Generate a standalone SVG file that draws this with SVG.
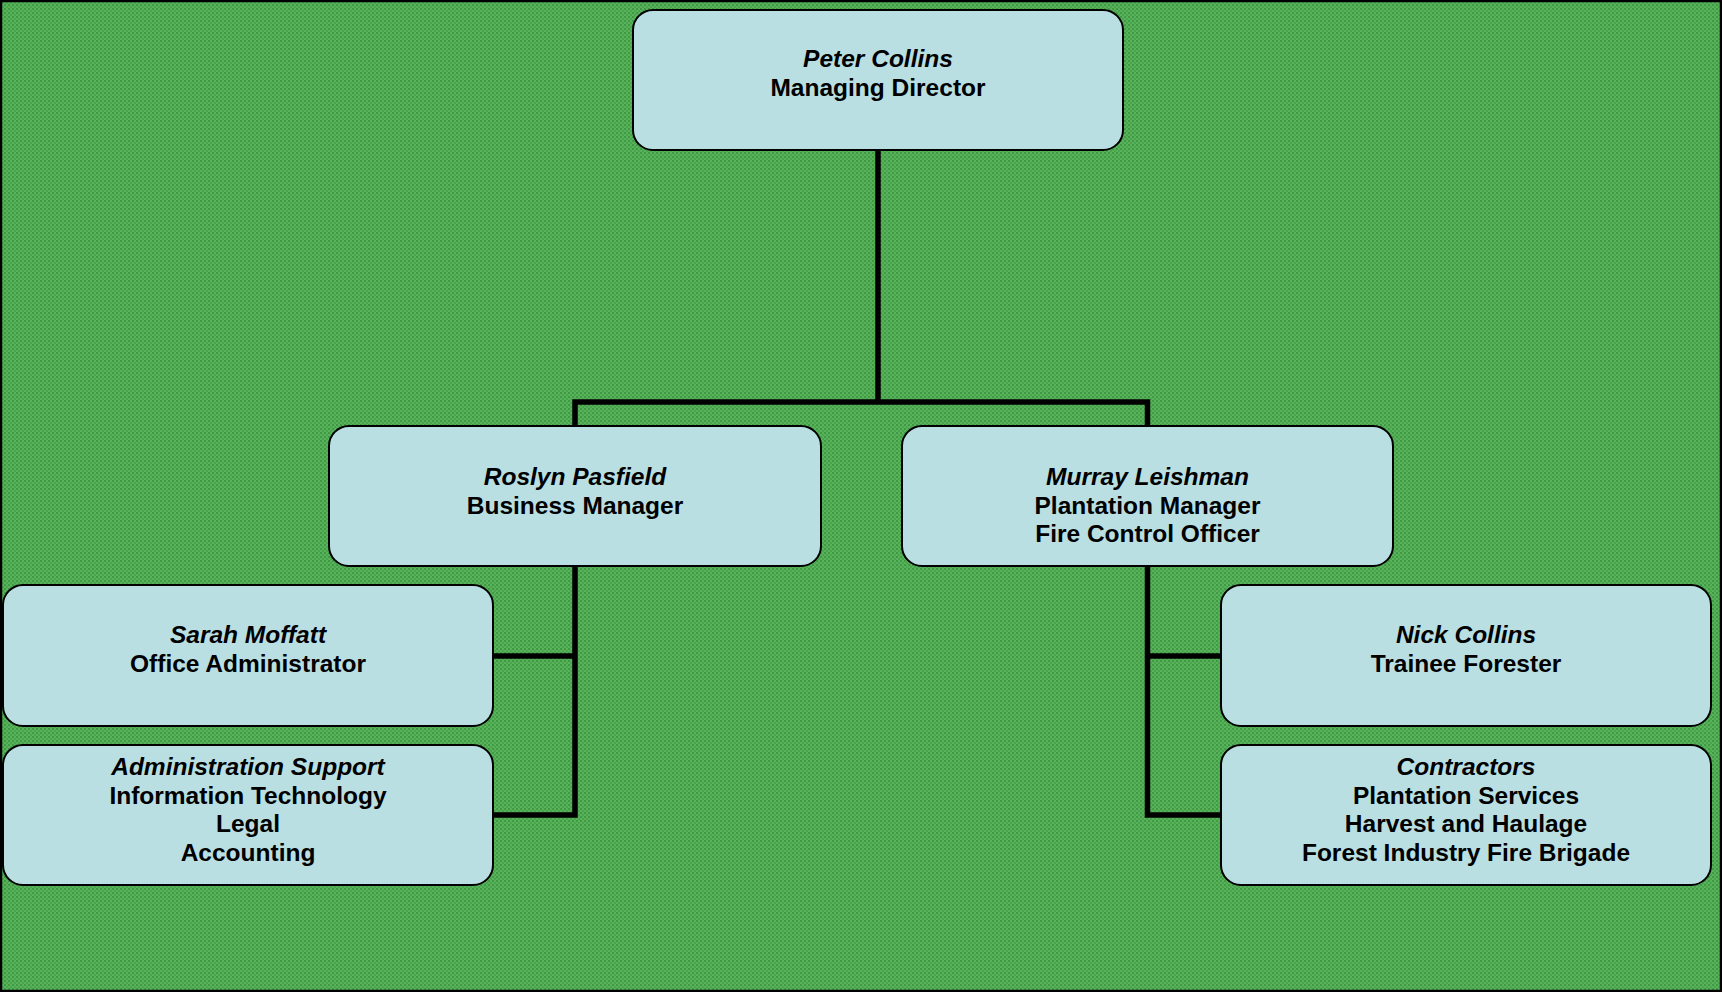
<svg xmlns="http://www.w3.org/2000/svg" width="1722" height="992" viewBox="0 0 1722 992">
<defs>
<pattern id="bg" width="4" height="4" patternUnits="userSpaceOnUse">
<rect width="4" height="4" fill="#58b35b"/>
<rect x="0" y="0" width="2" height="2" fill="#3f9844"/>
<rect x="2" y="2" width="2" height="2" fill="#4aa44e"/>
</pattern>
<style>
.box{fill:#b9dfe3;stroke:#000;stroke-width:2}
.t{font-family:"Liberation Sans",Arial,sans-serif;font-size:24.5px;font-weight:bold;fill:#000;text-anchor:middle}
.i{font-style:italic}
.c{stroke:#000;stroke-width:5.5;fill:none;stroke-linecap:square}
</style>
</defs>
<rect x="0" y="0" width="1722" height="992" fill="url(#bg)"/>
<rect x="1" y="1" width="1720" height="990" fill="none" stroke="#000" stroke-width="2.5"/>
<g id="connectors">
<path class="c" d="M878,150 V402 M575,402 H1147.5 M575,402 V426 M1147.5,402 V426"/>
<path class="c" d="M575,566 V815 M493,656 H575 M493,815 H575"/>
<path class="c" d="M1147.5,566 V815 M1147.5,656 H1221 M1147.5,815 H1221"/>
</g>
<g id="node-peter">
<rect class="box" x="633" y="10" width="490" height="140" rx="20"/>
<text class="t" x="878" y="67"><tspan class="i">Peter Collins</tspan><tspan x="878" dy="29">Managing Director</tspan></text>
</g>
<g id="node-roslyn">
<rect class="box" x="329" y="426" width="492" height="140" rx="20"/>
<text class="t" x="575" y="485"><tspan class="i">Roslyn Pasfield</tspan><tspan x="575" dy="29">Business Manager</tspan></text>
</g>
<g id="node-murray">
<rect class="box" x="902" y="426" width="491" height="140" rx="20"/>
<text class="t" x="1147.5" y="485"><tspan class="i">Murray Leishman</tspan><tspan x="1147.5" dy="28.5">Plantation Manager</tspan><tspan x="1147.5" dy="28.5">Fire Control Officer</tspan></text>
</g>
<g id="node-sarah">
<rect class="box" x="3" y="585" width="490" height="141" rx="20"/>
<text class="t" x="248" y="643"><tspan class="i">Sarah Moffatt</tspan><tspan x="248" dy="29">Office Administrator</tspan></text>
</g>
<g id="node-admin">
<rect class="box" x="3" y="745" width="490" height="140" rx="20"/>
<text class="t" x="248" y="775"><tspan class="i">Administration Support</tspan><tspan x="248" dy="28.5">Information Technology</tspan><tspan x="248" dy="28.5">Legal</tspan><tspan x="248" dy="28.5">Accounting</tspan></text>
</g>
<g id="node-nick">
<rect class="box" x="1221" y="585" width="490" height="141" rx="20"/>
<text class="t" x="1466" y="643"><tspan class="i">Nick Collins</tspan><tspan x="1466" dy="29">Trainee Forester</tspan></text>
</g>
<g id="node-contractors">
<rect class="box" x="1221" y="745" width="490" height="140" rx="20"/>
<text class="t" x="1466" y="775"><tspan class="i">Contractors</tspan><tspan x="1466" dy="28.5">Plantation Services</tspan><tspan x="1466" dy="28.5">Harvest and Haulage</tspan><tspan x="1466" dy="28.5">Forest Industry Fire Brigade</tspan></text>
</g>
</svg>
